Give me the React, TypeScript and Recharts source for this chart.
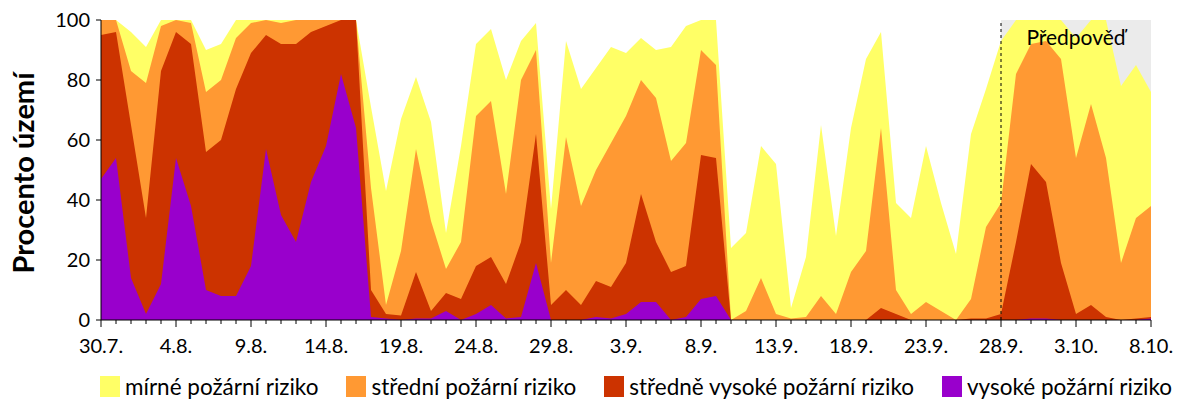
import {
  AreaChart,
  Area,
  XAxis,
  YAxis,
  Legend,
  ReferenceArea,
  ReferenceLine,
} from 'recharts'

const FONT = 'Lato, "Open Sans", sans-serif'

// dny 30.7. - 8.10.
const dates = [
  '30.7.', '31.7.',
  '1.8.', '2.8.', '3.8.', '4.8.', '5.8.', '6.8.', '7.8.', '8.8.', '9.8.', '10.8.',
  '11.8.', '12.8.', '13.8.', '14.8.', '15.8.', '16.8.', '17.8.', '18.8.', '19.8.', '20.8.',
  '21.8.', '22.8.', '23.8.', '24.8.', '25.8.', '26.8.', '27.8.', '28.8.', '29.8.', '30.8.', '31.8.',
  '1.9.', '2.9.', '3.9.', '4.9.', '5.9.', '6.9.', '7.9.', '8.9.', '9.9.', '10.9.',
  '11.9.', '12.9.', '13.9.', '14.9.', '15.9.', '16.9.', '17.9.', '18.9.', '19.9.', '20.9.',
  '21.9.', '22.9.', '23.9.', '24.9.', '25.9.', '26.9.', '27.9.', '28.9.', '29.9.', '30.9.',
  '1.10.', '2.10.', '3.10.', '4.10.', '5.10.', '6.10.', '7.10.', '8.10.',
]

// procento území s alespoň daným stupněm rizika (kumulativně)
const mirne = [
  100, 100, 96, 91, 100, 100, 100, 90, 92, 100,
  100, 100, 100, 100, 100, 100, 100, 100, 71, 43,
  67, 81, 66, 29, 58, 92, 97, 80, 93, 99,
  37, 93, 77, 84, 91, 89, 94, 90, 91, 98,
  100, 100, 24, 29, 58, 52, 4, 21, 65, 28,
  64, 87, 96, 39, 34, 58, 39, 22, 62, 77,
  93, 100, 100, 100, 100, 94, 100, 100, 78, 85,
  76,
]
const stredni = [
  100, 100, 83, 79, 98, 100, 99, 76, 80, 94,
  99, 100, 99, 100, 100, 100, 100, 100, 44, 5,
  23, 57, 33, 17, 26, 68, 73, 42, 80, 90,
  19, 61, 38, 50, 59, 68, 80, 74, 53, 59,
  90, 85, 0, 3, 14, 2, 0.5, 1, 8, 2,
  16, 23, 64, 10, 2, 6, 3, 0, 7, 31,
  39, 82, 92, 93, 87, 54, 72, 54, 19, 34,
  38,
]
const stredneVysoke = [
  95, 96, 65, 34, 83, 96, 92, 56, 60, 77,
  89, 95, 92, 92, 96, 98, 100, 100, 10, 2,
  1.5, 16, 3, 9, 7, 18, 21, 12, 26, 62,
  5, 10, 5, 13, 11, 19, 42, 26, 16, 18,
  55, 54, 0, 0, 0, 0, 0, 0, 0, 0,
  0, 0, 4, 2, 0, 0, 0, 0, 0.5, 0.5,
  2, 26, 52, 46, 19, 2, 5, 1, 0, 0.5,
  1,
]
const vysoke = [
  47, 54, 14, 2, 12, 54, 38, 10, 8, 8,
  18, 57, 35, 26, 46, 58, 82, 64, 1, 0.5,
  0, 0.5, 0.5, 3, 0, 2, 5, 0.5, 1, 19,
  0, 0, 0, 1, 0.5, 2, 6, 6, 0, 1,
  7, 8, 0, 0, 0, 0, 0, 0, 0, 0,
  0, 0, 0, 0, 0, 0, 0, 0, 0, 0,
  0, 0, 0.5, 0.5, 0, 0, 0, 0, 0, 0,
  0.5,
]

const yTicks = [0, 20, 40, 60, 80, 100]
const forecastStart = '28.9.'
const forecastEnd = '8.10.'

const series = [
  { key: 'mirne', name: 'mírné požární riziko', color: '#ffff66' },
  { key: 'stredni', name: 'střední požární riziko', color: '#ff9933' },
  { key: 'stredneVysoke', name: 'středně vysoké požární riziko', color: '#cc3300' },
  { key: 'vysoke', name: 'vysoké požární riziko', color: '#9900cc' },
]

const data = dates.map((date, i) => ({
  date,
  mirne: mirne[i],
  stredni: stredni[i],
  stredneVysoke: stredneVysoke[i],
  vysoke: vysoke[i],
}))

function DayTick(props: any) {
  const { x, y, payload, index } = props
  const major = index % 5 === 0
  return (
    <g>
      <line x1={x} x2={x} y1={y} y2={y + (major ? 7 : 4)} stroke="#000" />
      {major && (
        <text x={x} y={y + 33} textAnchor="middle" fill="#000" fontSize={20} fontFamily={FONT}>
          {payload.value}
        </text>
      )}
    </g>
  )
}

function YTitle(props: any) {
  const vb = props.viewBox
  const cy = vb.y + vb.height / 2 + 3
  const cx = 22
  return (
    <text
      x={cx}
      y={cy}
      transform={`rotate(-90, ${cx}, ${cy})`}
      textAnchor="middle"
      dominantBaseline="central"
      fontSize={29}
      fontWeight="bold"
      fontFamily={FONT}
      fill="#000"
    >
      Procento území
    </text>
  )
}

function LegendBox() {
  return (
    <div
      style={{
        display: 'flex',
        alignItems: 'center',
        width: 1200,
        whiteSpace: 'nowrap',
        paddingLeft: 100,
        paddingTop: 13,
        boxSizing: 'border-box',
        fontFamily: FONT,
        fontSize: 22.5,
        color: '#000',
      }}
    >
      {series.map((s) => (
        <div key={s.key} style={{ display: 'flex', alignItems: 'center', marginRight: 28, flexShrink: 0 }}>
          <span style={{ width: 20, height: 21, background: s.color, marginRight: 5, flexShrink: 0 }} />
          <span>{s.name}</span>
        </div>
      ))}
    </div>
  )
}

export default function App() {
  return (
    <div style={{ position: 'absolute', left: 0, top: 0, width: 1200, height: 400, background: '#fff' }}>
      <AreaChart width={1200} height={400} data={data} margin={{ top: 20, right: 49, bottom: 0, left: 0 }}>
        <ReferenceArea
          x1={forecastStart}
          x2={forecastEnd}
          y1={0}
          y2={100}
          fill="#ebebeb"
          fillOpacity={1}
          stroke="none"
          zIndex={-10}
          ifOverflow="visible"
        />
        {series.map((s) => (
          <Area
            key={s.key}
            type="linear"
            dataKey={s.key}
            name={s.name}
            fill={s.color}
            fillOpacity={1}
            stroke="none"
            dot={false}
            activeDot={false}
            isAnimationActive={false}
          />
        ))}
        <ReferenceLine x={forecastStart} stroke="#000" strokeDasharray="3 3" />
        <ReferenceArea
          x1={forecastStart}
          x2={forecastEnd}
          y1={0}
          y2={100}
          fill="none"
          stroke="none"
          ifOverflow="visible"
          label={{
            value: 'Předpověď',
            position: 'insideTop',
            offset: 10,
            fill: '#000',
            fontSize: 21,
            fontFamily: FONT,
          }}
        />
        <XAxis
          dataKey="date"
          interval={0}
          tickSize={0}
          tickMargin={0}
          tick={<DayTick />}
          axisLine={{ stroke: '#000' }}
          height={40}
        />
        <XAxis
          xAxisId="top"
          orientation="top"
          dataKey="date"
          tick={false}
          tickLine={false}
          axisLine={{ stroke: '#000' }}
          height={0}
        />
        <YAxis
          domain={[0, 100]}
          ticks={yTicks}
          width={101}
          tickSize={5}
          tickMargin={6}
          tickLine={{ stroke: '#000' }}
          axisLine={{ stroke: '#000' }}
          tick={{ fill: '#000', fontSize: 20, fontFamily: FONT }}
          label={{ content: <YTitle /> }}
        />
        <YAxis
          yAxisId="right"
          orientation="right"
          domain={[0, 100]}
          tick={false}
          tickLine={false}
          axisLine={{ stroke: '#000' }}
          width={0}
        />
        <Legend verticalAlign="bottom" height={40} content={<LegendBox />} />
      </AreaChart>
    </div>
  )
}
